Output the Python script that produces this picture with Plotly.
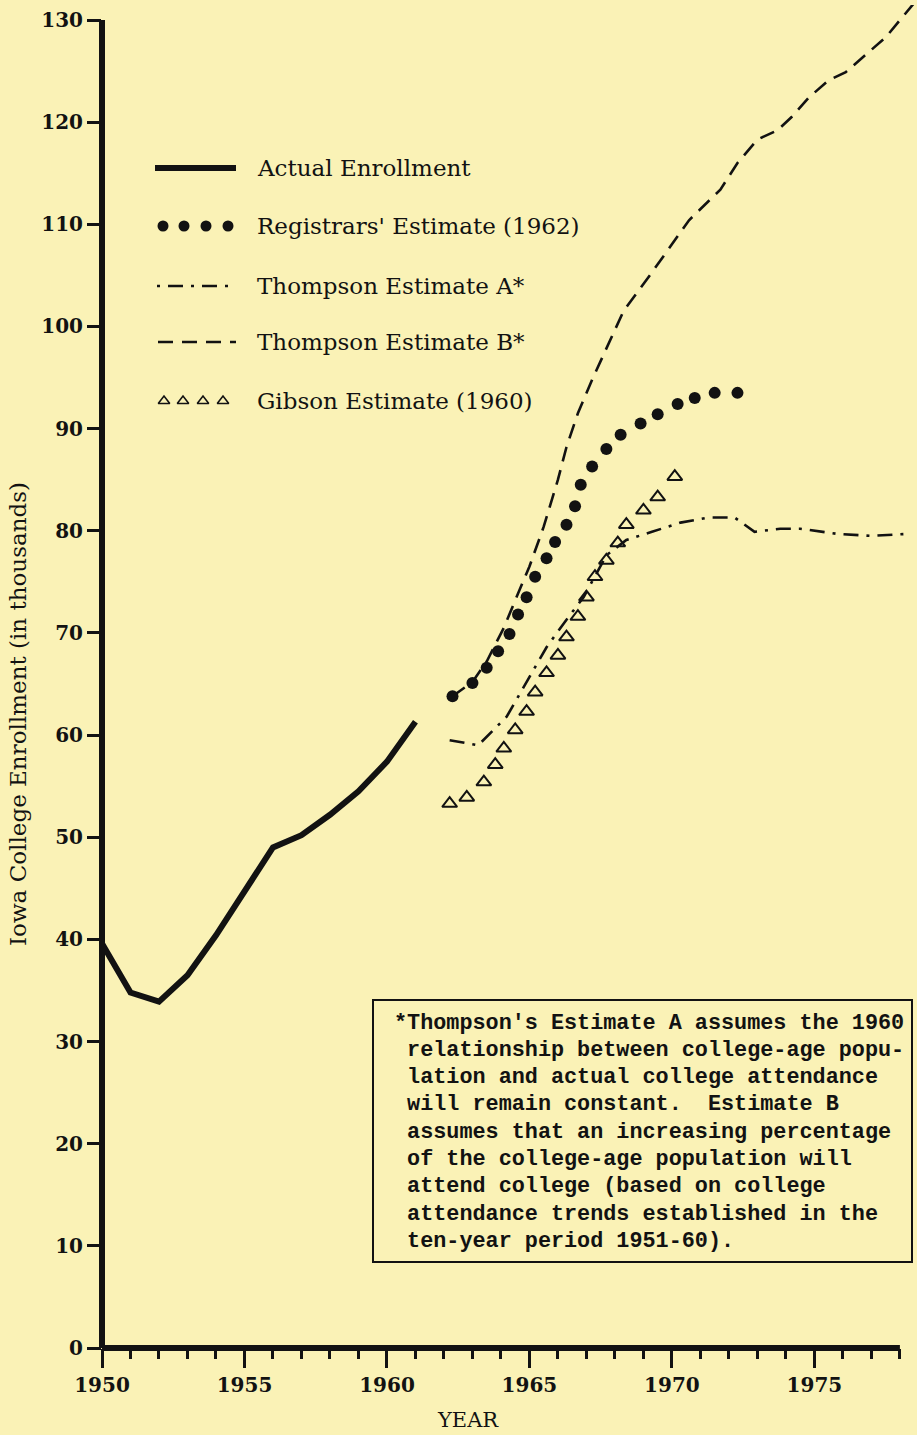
import plotly.graph_objects as go

# ---- data (thousands of students) ----
actual_years = [1950, 1951, 1952, 1953, 1954, 1955, 1956, 1957, 1958, 1959, 1960, 1961]
actual_enroll = [39.6, 34.8, 33.9, 36.5, 40.4, 44.6, 49.0, 50.2, 52.2, 54.5, 57.4, 61.3]

registrar_years = [1962.3, 1963.0, 1963.5, 1963.9, 1964.3, 1964.6, 1964.9, 1965.2, 1965.6, 1965.9, 1966.3,
                   1966.6, 1966.8, 1967.2, 1967.7, 1968.2, 1968.9, 1969.5, 1970.2, 1970.8, 1971.5, 1972.3]
registrar_est = [63.8, 65.1, 66.6, 68.2, 69.9, 71.8, 73.5, 75.5, 77.3, 78.9, 80.6,
                 82.4, 84.5, 86.3, 88.0, 89.4, 90.5, 91.4, 92.4, 93.0, 93.5, 93.5]

thompson_a_years = [1962.2, 1963.2, 1964.2, 1964.9, 1965.6, 1966.3, 1966.9, 1967.7, 1968.4, 1969.3,
                    1970.3, 1971.3, 1972.2, 1972.9, 1973.8, 1974.5, 1975.8, 1977.0, 1978.3]
thompson_a = [59.5, 59.0, 61.8, 65.2, 68.6, 71.3, 73.5, 77.6, 79.1, 79.9,
              80.8, 81.3, 81.3, 79.9, 80.2, 80.2, 79.7, 79.5, 79.7]

thompson_b_years = [1962.3, 1963.0, 1963.5, 1964.1, 1964.8, 1965.0, 1965.5, 1966.0, 1966.3, 1966.7,
                    1967.2, 1968.3, 1969.3, 1970.0, 1970.6, 1971.7, 1972.3, 1973.0, 1973.7, 1974.2,
                    1974.8, 1975.5, 1976.1, 1976.8, 1977.5, 1978.6]
thompson_b = [63.8, 65.2, 67.2, 70.5, 75.2, 76.5, 80.4, 85.0, 88.2, 91.5,
              94.8, 101.5, 105.3, 108.0, 110.4, 113.4, 116.0, 118.3, 119.2, 120.5,
              122.4, 124.1, 124.9, 126.6, 128.3, 132.0]

gibson_years = [1962.2, 1962.8, 1963.4, 1963.8, 1964.1, 1964.5, 1964.9, 1965.2, 1965.6, 1966.0,
                1966.3, 1966.7, 1967.0, 1967.3, 1967.7, 1968.1, 1968.4, 1969.0, 1969.5, 1970.1]
gibson_est = [53.3, 53.9, 55.4, 57.1, 58.7, 60.5, 62.3, 64.2, 66.1, 67.8,
              69.6, 71.6, 73.5, 75.5, 77.1, 78.8, 80.6, 82.0, 83.3, 85.3]

series_names = ["Actual Enrollment", "Registrars' Estimate (1962)", "Thompson Estimate A*",
                "Thompson Estimate B*", "Gibson Estimate (1960)"]
y_ticks = list(range(0, 131, 10))
x_ticks = [1950, 1955, 1960, 1965, 1970, 1975]

footnote_lines = [
    "*Thompson's Estimate A assumes the 1960",
    " relationship between college-age popu-",
    " lation and actual college attendance",
    " will remain constant.  Estimate B",
    " assumes that an increasing percentage",
    " of the college-age population will",
    " attend college (based on college",
    " attendance trends established in the",
    " ten-year period 1951-60).",
]

# ---- page geometry ----
W, H = 917, 1435
ML, MR, MT, MB = 102, 0, 5, 87
PW, PH = W - ML - MR, H - MT - MB
X_RANGE = [1950, 1978.6]
Y_RANGE = [0, 131.47]
INK = "#121212"
PAPER = "#FAF2B6"
SERIF = "DejaVu Serif"


def px(x):
    return (x - ML) / PW


def py(y):
    return (H - MB - y) / PH


def xp(year):
    return (year - X_RANGE[0]) / (X_RANGE[1] - X_RANGE[0])


def yp(v):
    return (v - Y_RANGE[0]) / (Y_RANGE[1] - Y_RANGE[0])


dash_b = "15px,9px"
dash_a = "15px,8px,3px,8px"

fig = go.Figure()

fig.add_trace(go.Scatter(x=actual_years, y=actual_enroll, mode="lines",
                         line=dict(color=INK, width=6), name=series_names[0]))
fig.add_trace(go.Scatter(x=thompson_b_years, y=thompson_b, mode="lines",
                         line=dict(color=INK, width=2.6, dash=dash_b), name=series_names[3]))
fig.add_trace(go.Scatter(x=thompson_a_years, y=thompson_a, mode="lines",
                         line=dict(color=INK, width=2.6, dash=dash_a), name=series_names[2]))
fig.add_trace(go.Scatter(x=registrar_years, y=registrar_est, mode="markers",
                         marker=dict(color=INK, size=12, symbol="circle"), name=series_names[1]))
fig.add_trace(go.Scatter(x=gibson_years, y=gibson_est, mode="markers",
                         marker=dict(color=INK, size=13, symbol="triangle-up-open",
                                     line=dict(color=INK, width=2)), name=series_names[4]))

# ---- hand-drawn legend keys on an overlay axis in page fractions ----
row_y = [168, 226, 286, 342, 401]
key_kw = dict(xaxis="x2", yaxis="y2", hoverinfo="skip", showlegend=False)
fig.add_trace(go.Scatter(x=[px(155), px(236)], y=[py(row_y[0])] * 2, mode="lines",
                         line=dict(color=INK, width=6), **key_kw))
fig.add_trace(go.Scatter(x=[px(v) for v in (163, 184, 206, 228)], y=[py(row_y[1])] * 4,
                         mode="markers", marker=dict(color=INK, size=11), **key_kw))
fig.add_trace(go.Scatter(x=[px(157), px(236)], y=[py(row_y[2])] * 2, mode="lines",
                         line=dict(color=INK, width=2.6, dash="3px,8px,15px,8px"), **key_kw))
fig.add_trace(go.Scatter(x=[px(158), px(236)], y=[py(row_y[3])] * 2, mode="lines",
                         line=dict(color=INK, width=2.6, dash=dash_b), **key_kw))
fig.add_trace(go.Scatter(x=[px(v) for v in (164, 183, 203, 223)], y=[py(row_y[4])] * 4,
                         mode="markers", marker=dict(color=INK, size=10, symbol="triangle-up-open",
                                                      line=dict(color=INK, width=1.6)), **key_kw))

annotations = []
for label, ry in zip(series_names, row_y):
    annotations.append(dict(x=px(255), y=py(ry), xref="paper", yref="paper", text=label,
                            showarrow=False, xanchor="left", yanchor="middle",
                            font=dict(family=SERIF, size=23, color=INK)))

annotations.append(dict(x=px(18), y=py(714), xref="paper", yref="paper",
                        text="Iowa College Enrollment (in thousands)", textangle=-90,
                        showarrow=False, xanchor="center", yanchor="middle",
                        font=dict(family=SERIF, size=23, color=INK)))
annotations.append(dict(x=px(468), y=py(1420), xref="paper", yref="paper", text="YEAR",
                        showarrow=False, xanchor="center", yanchor="middle",
                        font=dict(family=SERIF, size=21, color=INK)))

for i, line in enumerate(footnote_lines):
    annotations.append(dict(x=px(392), y=py(1023 + 27.3 * i), xref="paper", yref="paper",
                            text=line.replace(" ", "\u00a0"), showarrow=False,
                            xanchor="left", yanchor="middle",
                            font=dict(family="Liberation Mono", size=21.8, color=INK, weight="bold")))

shapes = [
    # axis lines
    dict(type="line", xref="paper", yref="paper", x0=0, x1=0, y0=yp(0), y1=yp(130),
         line=dict(color=INK, width=6)),
    dict(type="line", xref="paper", yref="paper", x0=0, x1=xp(1978), y0=0, y1=0,
         line=dict(color=INK, width=6)),
    # footnote box
    dict(type="rect", xref="paper", yref="paper", x0=px(373), x1=px(912), y0=py(1262), y1=py(1000),
         line=dict(color=INK, width=2)),
]

tick_font = dict(family=SERIF, size=20, color=INK, weight="bold")
fig.update_layout(
    width=W, height=H,
    margin=dict(l=ML, r=MR, t=MT, b=MB),
    paper_bgcolor=PAPER, plot_bgcolor=PAPER,
    showlegend=False,
    xaxis=dict(range=X_RANGE, tickvals=x_ticks, ticks="outside", ticklen=19, tickwidth=3,
               tickcolor=INK, showline=False, showgrid=False, zeroline=False, tickfont=tick_font,
               minor=dict(ticks="outside", tick0=1950, dtick=1, ticklen=10, tickwidth=3,
                          tickcolor=INK, showgrid=False)),
    yaxis=dict(range=Y_RANGE, tickvals=y_ticks, ticks="outside", ticklen=14, tickwidth=3,
               tickcolor=INK, showline=False, showgrid=False, zeroline=False, tickfont=tick_font),
    xaxis2=dict(range=[0, 1], overlaying="x", visible=False),
    yaxis2=dict(range=[0, 1], overlaying="y", visible=False),
    annotations=annotations,
    shapes=shapes,
)

# the page's default 8px body margin would shift the whole figure
fig.write_html("out.html", config={"displayModeBar": False},
               post_script="document.body.style.margin='0';"
                           "document.body.style.background='" + PAPER + "';")
